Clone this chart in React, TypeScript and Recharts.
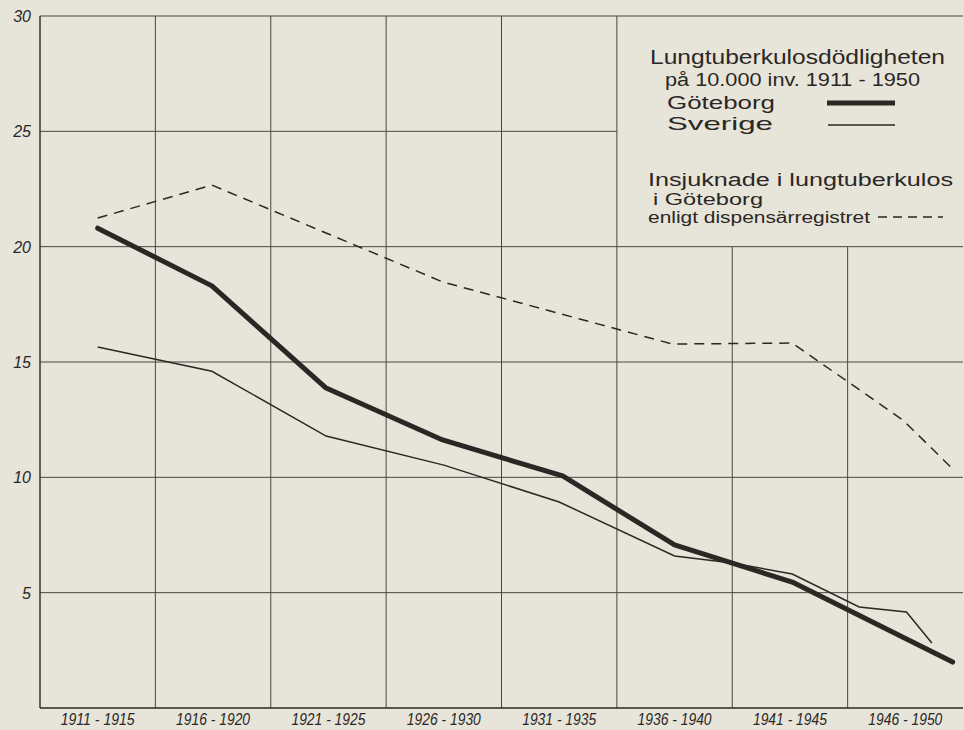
import React from 'react';
import { LineChart, Line, XAxis, YAxis, ReferenceLine, Customized } from 'recharts';

// Lungtuberkulosdödligheten på 10.000 inv. 1911-1950
const periods = ['1911 - 1915', '1916 - 1920', '1921 - 1925', '1926 - 1930', '1931 - 1935', '1936 - 1940', '1941 - 1945', '1946 - 1950'];
const periodMid = [1913.5, 1918.5, 1923.5, 1928.5, 1933.5, 1938.5, 1943.5, 1948.5];
const periodEdges = [1916, 1921, 1926, 1931, 1936];
const legendEdges = [1941, 1946];
const yTicks = [0, 5, 10, 15, 20, 25, 30];

const goteborgYear = [1913.5, 1918.45, 1923.4, 1928.45, 1933.65, 1938.5, 1943.6, 1950.55];
const goteborgValue = [20.8, 18.3, 13.87, 11.62, 10.06, 7.07, 5.46, 1.99];

const sverigeYear = [1913.5, 1918.45, 1923.4, 1928.5, 1933.5, 1938.5, 1941.0, 1943.6, 1946.5, 1948.55, 1949.65];
const sverigeValue = [15.65, 14.6, 11.79, 10.53, 8.93, 6.59, 6.29, 5.81, 4.38, 4.16, 2.82];

const insjukYear = [1913.5, 1918.45, 1928.45, 1938.4, 1943.6, 1948.4, 1950.6];
const insjukValue = [21.24, 22.67, 18.47, 15.78, 15.82, 12.48, 10.32];

const toRows = (xs: number[], ys: number[]) => xs.map((year, i) => ({ year, value: ys[i] }));
const goteborg = toRows(goteborgYear, goteborgValue);
const sverige = toRows(sverigeYear, sverigeValue);
const insjuk = toRows(insjukYear, insjukValue);

const INK = '#2b2724';
const GRID = '#4b4641';
const PAPER = '#e7e4da';
const HAND = '"Liberation Sans", "DejaVu Sans", sans-serif';

const XTick = (props: any) => {
  const { x, y, payload } = props;
  const i = periodMid.indexOf(payload.value);
  return (
    <text x={x} y={y + 9} textAnchor="middle" fontFamily={HAND} fontStyle="italic" fontSize={16} fill={INK}
      textLength={74} lengthAdjust="spacingAndGlyphs">
      {periods[i]}
    </text>
  );
};

const YTick = (props: any) => {
  const { y, payload } = props;
  if (payload.value === 0) return null;
  return (
    <text x={31} y={y + 6} textAnchor="end" fontFamily={HAND} fontStyle="italic" fontSize={16} fill={INK}>
      {payload.value}
    </text>
  );
};

// the hand-lettered key in the upper right corner
const Key = () => (
  <g fontFamily={HAND} fill={INK}>
    <text x={650} y={64} fontSize={20} textLength={295} lengthAdjust="spacingAndGlyphs">Lungtuberkulosdödligheten</text>
    <text x={665} y={86} fontSize={18} textLength={255} lengthAdjust="spacingAndGlyphs">på 10.000 inv. 1911 - 1950</text>
    <text x={667} y={109} fontSize={19} textLength={108} lengthAdjust="spacingAndGlyphs">Göteborg</text>
    <line x1={827} x2={895} y1={103} y2={103} stroke={INK} strokeWidth={5} />
    <text x={667} y={130} fontSize={19} textLength={106} lengthAdjust="spacingAndGlyphs">Sverige</text>
    <line x1={828} x2={895} y1={125} y2={125} stroke={INK} strokeWidth={1.6} />
    <text x={648} y={186} fontSize={18} textLength={305} lengthAdjust="spacingAndGlyphs">Insjuknade i lungtuberkulos</text>
    <text x={653} y={205} fontSize={17} textLength={110} lengthAdjust="spacingAndGlyphs">i Göteborg</text>
    <text x={648} y={223} fontSize={16} textLength={222} lengthAdjust="spacingAndGlyphs">enligt dispensärregistret</text>
    <line x1={878} x2={943} y1={217} y2={217} stroke={INK} strokeWidth={1.5} strokeDasharray="9 6" />
  </g>
);

const App: React.FC = () => (
  <div style={{ position: 'absolute', left: 0, top: 0, width: 964, height: 730, background: PAPER }}>
    <LineChart width={964} height={730} data={goteborg} margin={{ top: 16, right: 1, bottom: 0, left: 0 }}>
      <XAxis type="number" dataKey="year" domain={[1911, 1951]} ticks={periodMid} tick={<XTick />}
        tickLine={false} axisLine={{ stroke: INK, strokeWidth: 1.4 }} height={22} allowDataOverflow />
      <YAxis type="number" domain={[0, 30]} ticks={yTicks} tick={<YTick />} tickLine={false}
        axisLine={{ stroke: INK, strokeWidth: 1.4 }} width={40} />

      {[5, 10, 15, 20, 30].map(v => (
        <ReferenceLine key={'h' + v} y={v} stroke={GRID} strokeWidth={1} />
      ))}
      <ReferenceLine segment={[{ x: 1911, y: 25 }, { x: 1936, y: 25 }]} stroke={GRID} strokeWidth={1} />
      {periodEdges.map(e => (
        <ReferenceLine key={'v' + e} x={e} stroke={GRID} strokeWidth={1} />
      ))}
      {legendEdges.map(e => (
        <ReferenceLine key={'l' + e} segment={[{ x: e, y: 0 }, { x: e, y: 20 }]} stroke={GRID} strokeWidth={1} />
      ))}

      <Line data={insjuk} dataKey="value" type="linear" stroke={INK} strokeWidth={1.5} strokeDasharray="10 7"
        dot={false} isAnimationActive={false} />
      <Line data={sverige} dataKey="value" type="linear" stroke={INK} strokeWidth={1.5}
        dot={false} isAnimationActive={false} />
      <Line data={goteborg} dataKey="value" type="linear" stroke={INK} strokeWidth={5} strokeLinejoin="round"
        strokeLinecap="round" dot={false} isAnimationActive={false} />

      <Customized component={Key} />
    </LineChart>
  </div>
);

export default App;
